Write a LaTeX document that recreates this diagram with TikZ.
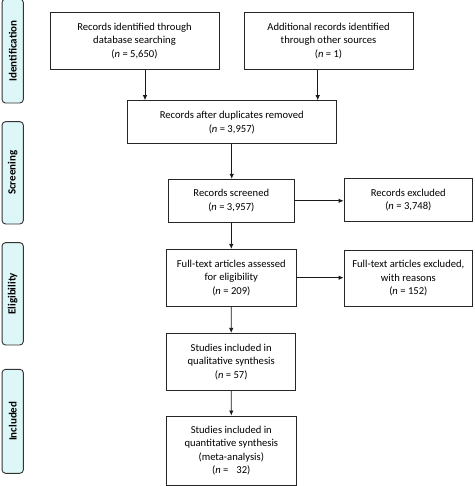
\documentclass[tikz,border=0pt]{standalone}
\usepackage{fontspec}
\setmainfont{Carlito}
\usetikzlibrary{arrows.meta}
\definecolor{labelfill}{RGB}{221,246,247}
\begin{document}
\begin{tikzpicture}[x=1pt,y=-1pt,
  box/.style={draw=black!85, line width=0.9pt, fill=white, align=center, inner sep=0pt, font=\fontsize{10.6}{13.6}\selectfont},
  phase/.style={draw=black!80, line width=0.9pt, fill=labelfill, rounded corners=3.5pt, inner sep=0pt, rotate=90, minimum height=21.3pt, font=\fontsize{11}{13}\selectfont\bfseries},
  arr/.style={-{Latex[length=5pt,width=4.5pt]}, line width=0.8pt, draw=black!90}]
\useasboundingbox (0,0) rectangle (474,486);
\clip (0,0) rectangle (474,486);
% phase labels
\node[phase, minimum width=104pt] (L1) at (12.7,51) {Identification};
\node[phase, minimum width=102.3pt] (L2) at (12.7,172.8) {Screening};
\node[phase, minimum width=102.3pt] (L3) at (12.7,293.8) {Eligibility};
\node[phase, minimum width=104pt] (L4) at (12.7,421.3) {Included};
% boxes
\node[box, minimum width=169pt, minimum height=57.5pt] (B1) at (134.5,41) {Records identified through\\database searching\\(\textit{n} = 5,650)};
\node[box, minimum width=169pt, minimum height=57.5pt] (B2) at (328.5,41) {Additional records identified\\through other sources\\(\textit{n} = 1)};
\node[box, minimum width=209.5pt, minimum height=43.3pt] (B3) at (231.8,122.3) {Records after duplicates removed\\(\textit{n} = 3,957)};
\node[box, minimum width=126pt, minimum height=43pt] (B4) at (231.3,200.8) {Records screened\\(\textit{n} = 3,957)};
\node[box, minimum width=128.5pt, minimum height=43.4pt] (B5) at (408.3,200) {Records excluded\\(\textit{n} = 3,748)};
\node[box, minimum width=129.3pt, minimum height=56.7pt] (B6) at (231.3,277.7) {Full-text articles assessed\\for eligibility\\(\textit{n} = 209)};
\node[box, minimum width=128.5pt, minimum height=56.7pt] (B7) at (408.3,278.3) {Full-text articles excluded,\\with reasons\\(\textit{n} = 152)};
\node[box, minimum width=129pt, minimum height=56.7pt] (B8) at (231.2,361.7) {Studies included in\\qualitative synthesis\\(\textit{n} = 57)};
\node[box, minimum width=129.3pt, minimum height=69pt] (B9) at (231.3,450.5) {Studies included in\\quantitative synthesis\\(meta-analysis)\\(\textit{n} =\hspace{0.75em}32)};
% arrows
\coordinate (a1) at (145,0);
\coordinate (a2) at (317.7,0);
\coordinate (a3) at (231.7,0);
\draw[arr] (B1.south -| a1) -- (B3.north -| a1);
\draw[arr] (B2.south -| a2) -- (B3.north -| a2);
\draw[arr] (B3.south -| a3) -- (B4.north -| a3);
\draw[arr] (B4.south) -- (B6.north);
\draw[arr] (B6.south) -- (B8.north);
\draw[arr] (B8.south) -- (B9.north);
\draw[arr] (B4.east) -- (B4.east -| B5.west);
\draw[arr] (B6.east) -- (B6.east -| B7.west);
\end{tikzpicture}
\end{document}
